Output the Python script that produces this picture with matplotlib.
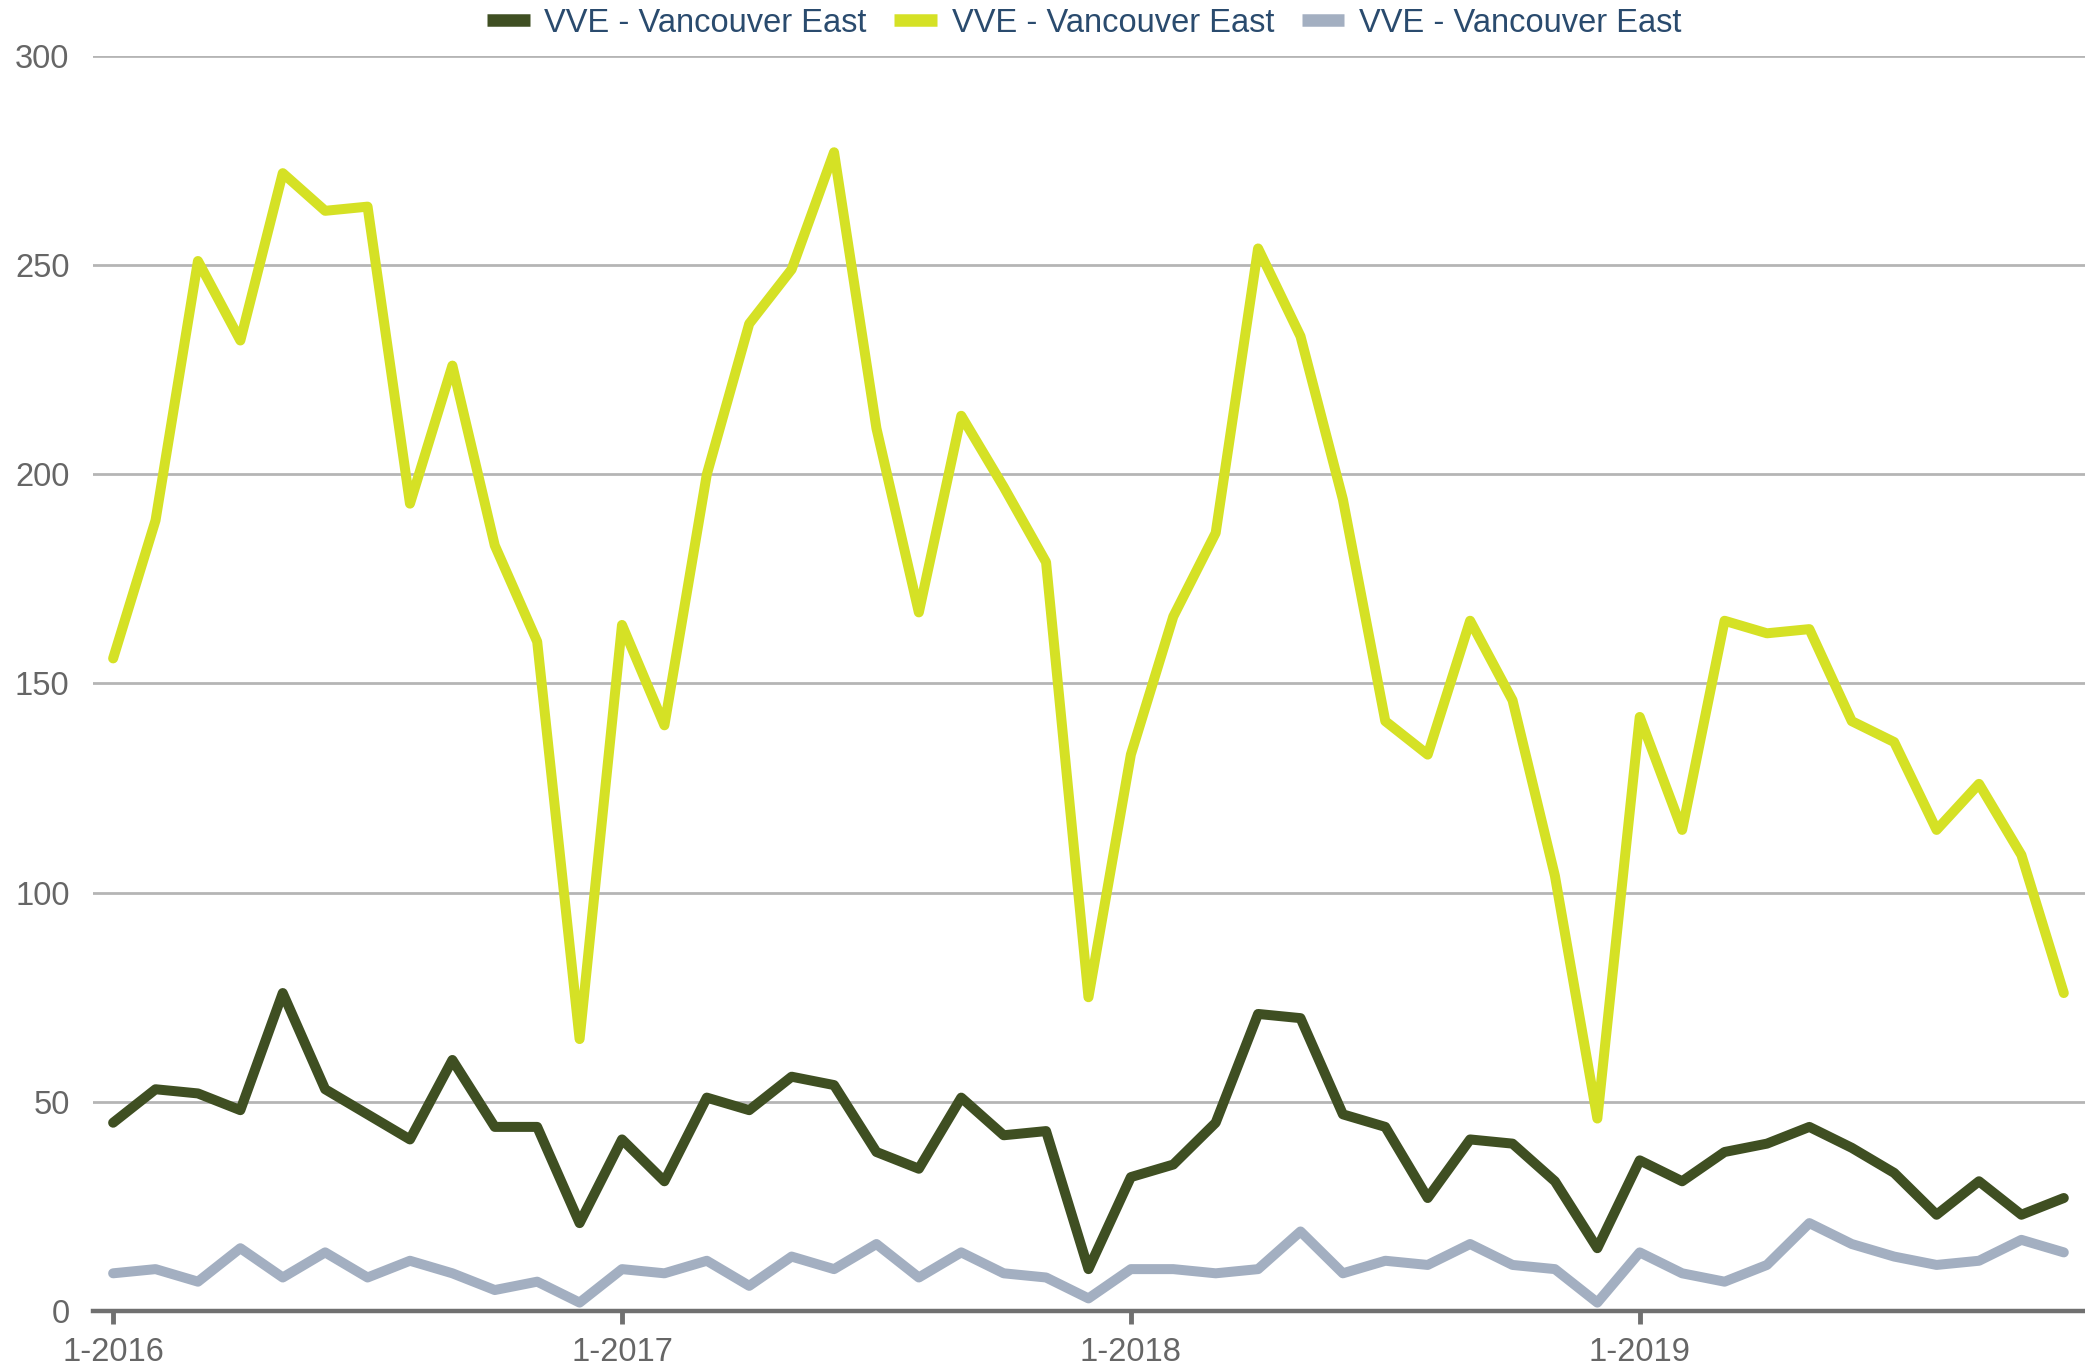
import matplotlib.pyplot as plt

# monthly values, 1-2016 .. 11-2019
months = [f"{m}-{y}" for y in range(2016, 2020) for m in range(1, 13)][:47]

dark = [45, 53, 52, 48, 76, 53, 47, 41, 60, 44, 44, 21,
        41, 31, 51, 48, 56, 54, 38, 34, 51, 42, 43, 10,
        32, 35, 45, 71, 70, 47, 44, 27, 41, 40, 31, 15,
        36, 31, 38, 40, 44, 39, 33, 23, 31, 23, 27]
lime = [156, 189, 251, 232, 272, 263, 264, 193, 226, 183, 160, 65,
        164, 140, 200, 236, 249, 277, 211, 167, 214, 197, 179, 75,
        133, 166, 186, 254, 233, 194, 141, 133, 165, 146, 104, 46,
        142, 115, 165, 162, 163, 141, 136, 115, 126, 109, 76]
grey = [9, 10, 7, 15, 8, 14, 8, 12, 9, 5, 7, 2,
        10, 9, 12, 6, 13, 10, 16, 8, 14, 9, 8, 3,
        10, 10, 9, 10, 19, 9, 12, 11, 16, 11, 10, 2,
        14, 9, 7, 11, 21, 16, 13, 11, 12, 17, 14]

series_names = ['VVE - Vancouver East'] * 3
colors = ['#3f4f22', '#d5e125', '#a3afc1']

plt.rcParams['font.family'] = ['Liberation Sans', 'DejaVu Sans']

fig = plt.figure(figsize=(20.85, 13.67), dpi=100)
ax = fig.add_axes([0.0447, 0.041, 0.9553, 0.918])

x = list(range(len(months)))
for vals, name, c in zip([dark, lime, grey], series_names, colors):
    ax.plot(x, vals, color=c, lw=7.2, label=name,
            solid_capstyle='round', solid_joinstyle='round')

ax.set_ylim(0, 300)
ax.set_xlim(-0.47, 46.5)
ax.set_yticks([0, 50, 100, 150, 200, 250, 300])
ax.yaxis.grid(True, color='#b5b5b5', lw=2.0)
ax.set_axisbelow(True)

xt = [0, 12, 24, 36]
ax.set_xticks(xt)
ax.set_xticklabels([months[i] for i in xt])

for s in ['top', 'right', 'left']:
    ax.spines[s].set_visible(False)
ax.spines['bottom'].set_color('#707070')
ax.spines['bottom'].set_linewidth(3.2)
ax.spines['bottom'].set_zorder(1)

ax.tick_params(axis='y', length=0, pad=17, labelsize=23.5, labelcolor='#666666')
ax.tick_params(axis='x', length=9, width=3.5, color='#707070', pad=10,
               labelsize=23.5, labelcolor='#666666')

leg = fig.legend(loc='upper center', bbox_to_anchor=(0.52, 1.016), ncol=3,
                 frameon=False, fontsize=23.5, handlelength=1.3,
                 handletextpad=0.45, columnspacing=0.85)
for h in leg.get_lines():
    h.set_linewidth(9)
    h.set_solid_capstyle('butt')
for t in leg.get_texts():
    t.set_color('#2a4b6e')

fig.savefig('out.png', dpi=100)
